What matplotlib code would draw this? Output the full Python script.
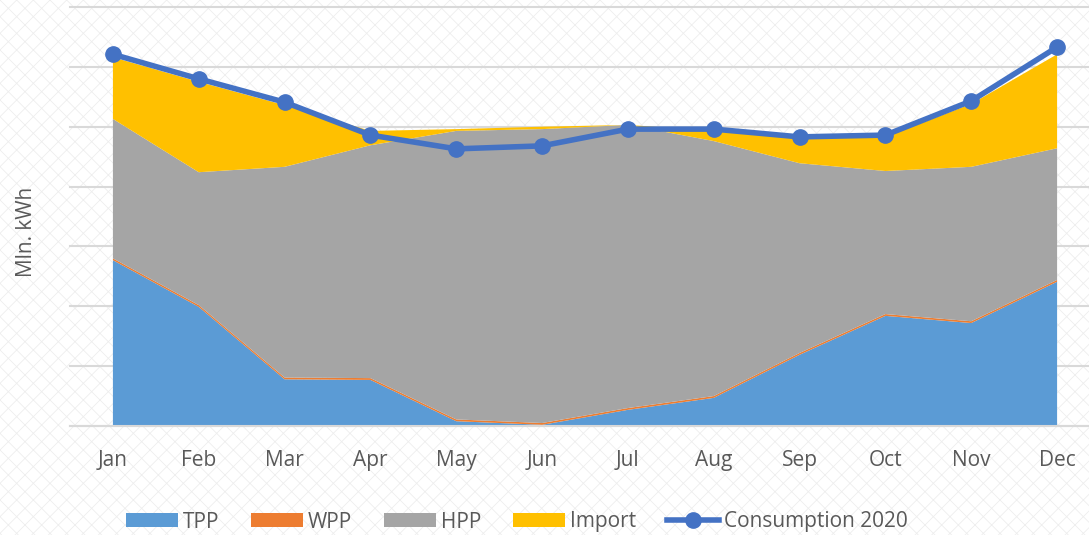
import matplotlib
matplotlib.use("Agg")
import matplotlib.pyplot as plt
import numpy as np

plt.rcParams['font.family'] = ['Open Sans', 'DejaVu Sans']
plt.rcParams['hatch.linewidth'] = 0.6

months = ["Jan", "Feb", "Mar", "Apr", "May", "Jun",
          "Jul", "Aug", "Sep", "Oct", "Nov", "Dec"]

# Mln. kWh
tpp = [554, 398, 156, 154, 16, 4, 54, 94, 238, 368, 344, 482]
wpp = [6, 6, 6, 6, 6, 6, 6, 6, 6, 6, 6, 6]
hpp = [466, 444, 704, 778, 964, 982, 946, 852, 634, 478, 516, 440]
imports = [206, 302, 206, 48, 6, 8, 0, 34, 84, 114, 210, 314]
consumption = [1242, 1160, 1082, 972, 926, 936, 992, 992, 966, 972, 1086, 1266]

colors = {"TPP": "#5B9BD5", "WPP": "#ED7D31", "HPP": "#A5A5A5",
          "Import": "#FFC000", "line": "#4472C4"}

fig = plt.figure(figsize=(10.89, 5.35), dpi=100)
fig.patch.set_facecolor("white")
fig.patch.set_edgecolor("#eeeeee")
fig.patch.set_hatch("xx")
fig.patch.set_linewidth(0)

ax = fig.add_axes([70 / 1089, 109 / 535, 1030 / 1089, 419 / 535])
ax.patch.set_visible(False)

x = np.arange(len(months))
ax.stackplot(x, tpp, wpp, hpp, imports,
             colors=[colors["TPP"], colors["WPP"], colors["HPP"], colors["Import"]],
             labels=["TPP", "WPP", "HPP", "Import"], linewidth=0, zorder=2)
ax.plot(x, consumption, color=colors["line"], lw=4, marker="o", ms=11,
        label="Consumption 2020", zorder=4)

ax.set_xlim(-0.5, 11.5)
ax.set_ylim(0, 1400)
ax.set_yticks(np.arange(0, 1401, 200))
ax.set_yticklabels([])
ax.tick_params(axis="y", length=0)
ax.grid(axis="y", color="#d9d9d9", lw=1.5, zorder=1)
for gl in ax.get_ygridlines():
    gl.set_clip_on(False)

ax.set_xticks(x)
ax.set_xticklabels(months, fontsize=15, color="#595959")
ax.tick_params(axis="x", length=0, pad=17)

for s in ["top", "right", "left"]:
    ax.spines[s].set_visible(False)
ax.spines["bottom"].set_color("#d9d9d9")
ax.spines["bottom"].set_linewidth(1.5)
ax.spines["bottom"].set_zorder(3)

ax.set_ylabel("Mln. kWh", fontsize=15, color="#595959")
ax.yaxis.set_label_coords(-33 / 1030, (426 - 232) / 419)

leg = fig.legend(loc="center", bbox_to_anchor=(517 / 1089, 13 / 535), ncol=5,
                 frameon=False, fontsize=15, handlelength=2.5, handleheight=0.67,
                 columnspacing=1.5, handletextpad=0.25)
for t in leg.get_texts():
    t.set_color("#595959")

fig.savefig("out.png", dpi=100)
